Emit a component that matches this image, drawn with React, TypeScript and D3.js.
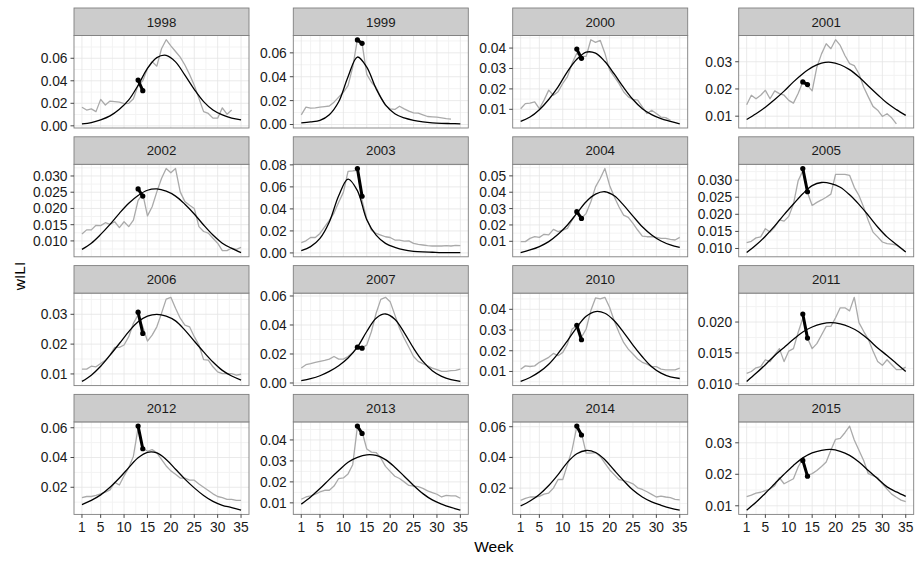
import * as d3 from "d3";

// weeks of the season shown on the x axis
const WEEKS = [1, 2, 3, 4, 5, 6, 7, 8, 9, 10, 11, 12, 13, 14, 15, 16, 17, 18, 19, 20, 21, 22, 23, 24, 25, 26, 27, 28, 29, 30, 31, 32, 33, 34, 35];
// weeks at which the fitted curve was read
const FIT_WEEKS = [1, 3, 5, 7, 9, 11, 13, 15, 17, 19, 21, 23, 25, 27, 29, 31, 33, 35];
const SPIKE_WEEKS = [13, 14];
const X_TICKS = [1, 5, 10, 15, 20, 25, 30, 35];

const wili1998 = [0.0165, 0.014, 0.015, 0.0126, 0.0235, 0.0185, 0.022, 0.0215, 0.021, 0.0197, 0.02, 0.024, 0.036, 0.04, 0.051, 0.057, 0.053, 0.0685, 0.0765, 0.071, 0.066, 0.061, 0.054, 0.0456, 0.036, 0.0244, 0.0126, 0.011, 0.0068, 0.0068, 0.016, 0.0103, 0.014];
const fit1998 = [0.0018, 0.0029, 0.0053, 0.0088, 0.0147, 0.023, 0.036, 0.051, 0.0606, 0.0626, 0.0568, 0.045, 0.0324, 0.0215, 0.0141, 0.0097, 0.0068, 0.0053];
const spike1998 = [0.0406, 0.0312];
const ticks1998 = [0, 0.02, 0.04, 0.06];

const wili1999 = [0.0081, 0.0145, 0.0137, 0.014, 0.0145, 0.015, 0.0155, 0.0187, 0.0229, 0.027, 0.0326, 0.048, 0.071, 0.068, 0.042, 0.0354, 0.031, 0.0229, 0.0159, 0.0131, 0.0126, 0.0153, 0.0131, 0.0112, 0.0098, 0.0095, 0.0081, 0.0067, 0.0064, 0.0061, 0.0056, 0.005, 0.0045];
const fit1999 = [0.0014, 0.0022, 0.0035, 0.0082, 0.019, 0.04, 0.0565, 0.048, 0.03, 0.0165, 0.009, 0.0055, 0.0035, 0.0022, 0.0014, 0.001, 0.0008, 0.0006];
const spike1999 = [0.0708, 0.068];
const ticks1999 = [0, 0.02, 0.04, 0.06];

const wili2000 = [0.0103, 0.0128, 0.013, 0.0136, 0.0103, 0.0145, 0.0194, 0.0169, 0.0186, 0.0227, 0.026, 0.0326, 0.0375, 0.0359, 0.0359, 0.0441, 0.0428, 0.0438, 0.0375, 0.0293, 0.026, 0.0227, 0.0186, 0.0161, 0.0149, 0.0145, 0.0112, 0.0079, 0.0095, 0.0079, 0.0062, 0.0059, 0.0046];
const fit2000 = [0.0041, 0.0062, 0.0098, 0.0148, 0.021, 0.0285, 0.0345, 0.038, 0.0375, 0.0334, 0.0273, 0.0207, 0.0148, 0.0103, 0.0074, 0.0054, 0.0041, 0.0029];
const spike2000 = [0.0395, 0.035];
const ticks2000 = [0.01, 0.02, 0.03, 0.04];

const wili2001 = [0.0142, 0.0177, 0.0164, 0.0177, 0.0195, 0.0164, 0.0193, 0.0183, 0.0177, 0.0158, 0.0148, 0.0183, 0.0226, 0.0213, 0.0193, 0.028, 0.0329, 0.0366, 0.0348, 0.0381, 0.036, 0.0323, 0.0293, 0.0286, 0.0256, 0.0207, 0.0171, 0.0136, 0.0122, 0.0099, 0.0109, 0.0094, 0.0072];
const fit2001 = [0.0088, 0.0109, 0.0133, 0.0161, 0.0192, 0.0226, 0.0256, 0.028, 0.0295, 0.0298, 0.0289, 0.0271, 0.0244, 0.0211, 0.0179, 0.0148, 0.0124, 0.0103];
const spike2001 = [0.0226, 0.0216];
const ticks2001 = [0.01, 0.02, 0.03];

const wili2002 = [0.0121, 0.0134, 0.0134, 0.0148, 0.0147, 0.0156, 0.0151, 0.0159, 0.0141, 0.0159, 0.0144, 0.0164, 0.0225, 0.0245, 0.0177, 0.0205, 0.0251, 0.0292, 0.0323, 0.031, 0.0323, 0.0251, 0.0221, 0.021, 0.02, 0.0144, 0.0129, 0.0124, 0.0108, 0.0093, 0.007, 0.007, 0.0078, 0.0074, 0.008];
const fit2002 = [0.0074, 0.0093, 0.012, 0.0151, 0.0185, 0.0216, 0.024, 0.0256, 0.026, 0.0253, 0.0238, 0.0213, 0.0183, 0.0149, 0.0118, 0.0093, 0.0077, 0.0064];
const spike2002 = [0.026, 0.0238];
const ticks2002 = [0.01, 0.015, 0.02, 0.025, 0.03];

const wili2003 = [0.0093, 0.011, 0.014, 0.014, 0.0177, 0.0237, 0.0296, 0.0362, 0.046, 0.055, 0.074, 0.0745, 0.0751, 0.0476, 0.0311, 0.0207, 0.0177, 0.0162, 0.0147, 0.014, 0.0117, 0.0117, 0.0108, 0.011, 0.0087, 0.0078, 0.0072, 0.0066, 0.0063, 0.0063, 0.0063, 0.0066, 0.0063, 0.0069, 0.0066];
const fit2003 = [0.0021, 0.0057, 0.0132, 0.0281, 0.052, 0.0671, 0.0566, 0.0302, 0.0162, 0.0087, 0.0051, 0.0027, 0.0015, 0.0009, 0.0006, 0.0003, 0.0003, 0.0003];
const spike2003 = [0.0767, 0.0515];
const ticks2003 = [0, 0.02, 0.04, 0.06, 0.08];

const wili2004 = [0.0098, 0.0098, 0.0118, 0.0128, 0.0124, 0.0143, 0.0139, 0.0173, 0.0159, 0.0169, 0.0179, 0.023, 0.0275, 0.024, 0.0271, 0.0342, 0.0433, 0.0484, 0.0545, 0.0443, 0.0372, 0.0311, 0.026, 0.0246, 0.021, 0.0169, 0.0132, 0.0128, 0.0128, 0.0124, 0.0118, 0.0118, 0.0112, 0.0108, 0.0124];
const fit2004 = [0.0031, 0.0047, 0.0068, 0.0098, 0.0143, 0.02, 0.0271, 0.0342, 0.0388, 0.0403, 0.0378, 0.0321, 0.0254, 0.0189, 0.0139, 0.0102, 0.0078, 0.0063];
const spike2004 = [0.0281, 0.024];
const ticks2004 = [0.01, 0.02, 0.03, 0.04, 0.05];

const wili2005 = [0.0117, 0.0121, 0.0131, 0.0134, 0.0158, 0.0148, 0.0163, 0.0184, 0.018, 0.0194, 0.023, 0.0298, 0.0327, 0.0264, 0.0226, 0.0235, 0.0242, 0.025, 0.0259, 0.0317, 0.0317, 0.0317, 0.0314, 0.0279, 0.0255, 0.0221, 0.0182, 0.0148, 0.0134, 0.0119, 0.0114, 0.0113, 0.011, 0.01, 0.009];
const fit2005 = [0.0088, 0.011, 0.0136, 0.0166, 0.0199, 0.023, 0.026, 0.0284, 0.0293, 0.029, 0.0279, 0.0257, 0.0229, 0.0197, 0.0163, 0.0134, 0.0112, 0.009];
const spike2005 = [0.0334, 0.0266];
const ticks2005 = [0.01, 0.015, 0.02, 0.025, 0.03];

const wili2006 = [0.0116, 0.0116, 0.0126, 0.0124, 0.0135, 0.0146, 0.0163, 0.0189, 0.0189, 0.0197, 0.0225, 0.027, 0.0298, 0.0258, 0.021, 0.023, 0.0258, 0.0303, 0.0351, 0.0357, 0.032, 0.0287, 0.0264, 0.0258, 0.0225, 0.0197, 0.0148, 0.0146, 0.0124, 0.0107, 0.0101, 0.0101, 0.0101, 0.0096, 0.0099];
const fit2006 = [0.0075, 0.0096, 0.0126, 0.0163, 0.0202, 0.0242, 0.0275, 0.0294, 0.03, 0.0294, 0.0278, 0.0247, 0.021, 0.0174, 0.014, 0.0112, 0.0093, 0.0079];
const spike2006 = [0.0307, 0.0236];
const ticks2006 = [0.01, 0.02, 0.03];

const wili2007 = [0.0103, 0.0126, 0.0133, 0.0142, 0.0149, 0.0156, 0.0165, 0.0183, 0.0165, 0.0165, 0.0183, 0.0211, 0.0247, 0.0241, 0.0263, 0.0355, 0.0481, 0.0577, 0.0591, 0.0561, 0.047, 0.0378, 0.0309, 0.0247, 0.0183, 0.0149, 0.0133, 0.0119, 0.0103, 0.0092, 0.008, 0.008, 0.0085, 0.0087, 0.0096];
const fit2007 = [0.0016, 0.003, 0.005, 0.008, 0.0119, 0.0172, 0.0247, 0.0355, 0.0447, 0.0476, 0.044, 0.0348, 0.024, 0.0149, 0.0085, 0.0046, 0.0023, 0.0011];
const spike2007 = [0.0247, 0.024];
const ticks2007 = [0, 0.02, 0.04, 0.06];

const wili2010 = [0.0111, 0.0127, 0.0124, 0.0127, 0.0144, 0.0156, 0.0168, 0.0187, 0.0176, 0.0192, 0.0232, 0.0305, 0.0321, 0.0265, 0.0305, 0.0394, 0.0455, 0.045, 0.0458, 0.041, 0.0345, 0.0289, 0.024, 0.0208, 0.0184, 0.016, 0.0144, 0.0135, 0.0123, 0.0123, 0.0111, 0.0108, 0.0108, 0.0108, 0.0116];
const fit2010 = [0.0052, 0.0071, 0.0098, 0.0135, 0.0187, 0.0248, 0.0313, 0.0366, 0.0389, 0.0381, 0.0345, 0.0289, 0.0227, 0.0171, 0.0123, 0.0092, 0.0074, 0.0066];
const spike2010 = [0.0323, 0.0253];
const ticks2010 = [0.01, 0.02, 0.03, 0.04];

const wili2011 = [0.0117, 0.012, 0.0126, 0.0128, 0.0139, 0.0136, 0.0147, 0.0157, 0.0136, 0.0153, 0.0157, 0.0183, 0.0206, 0.0174, 0.0157, 0.0165, 0.0179, 0.0193, 0.0193, 0.0207, 0.0223, 0.0223, 0.0218, 0.024, 0.0199, 0.0185, 0.0172, 0.0153, 0.0136, 0.013, 0.0139, 0.0131, 0.0123, 0.0123, 0.0127];
const fit2011 = [0.0104, 0.0117, 0.0131, 0.0146, 0.0159, 0.0172, 0.0184, 0.0192, 0.0197, 0.0199, 0.0197, 0.0192, 0.0184, 0.0172, 0.0158, 0.0146, 0.0133, 0.012];
const spike2011 = [0.0213, 0.0174];
const ticks2011 = [0.01, 0.015, 0.02];

const wili2012 = [0.013, 0.0138, 0.0138, 0.0145, 0.0156, 0.0167, 0.0182, 0.0233, 0.0215, 0.0277, 0.0332, 0.0409, 0.06, 0.0464, 0.0442, 0.0453, 0.0431, 0.0387, 0.0343, 0.031, 0.0288, 0.0262, 0.0262, 0.0248, 0.0248, 0.0222, 0.02, 0.0178, 0.0156, 0.0138, 0.013, 0.0119, 0.0119, 0.0112, 0.0112];
const fit2012 = [0.0084, 0.0112, 0.0149, 0.02, 0.0262, 0.0332, 0.0398, 0.0435, 0.0431, 0.0387, 0.0321, 0.0255, 0.0196, 0.0145, 0.0105, 0.0079, 0.0064, 0.0046];
const spike2012 = [0.0611, 0.0459];
const ticks2012 = [0.02, 0.04, 0.06];

const wili2013 = [0.0117, 0.0128, 0.0133, 0.0141, 0.0152, 0.016, 0.016, 0.018, 0.0216, 0.0219, 0.0238, 0.0282, 0.0463, 0.0439, 0.0357, 0.0342, 0.034, 0.0314, 0.0274, 0.025, 0.0227, 0.0216, 0.02, 0.0183, 0.018, 0.0177, 0.0169, 0.0157, 0.0149, 0.0141, 0.0128, 0.0136, 0.0133, 0.0133, 0.0122];
const fit2013 = [0.0094, 0.0128, 0.0168, 0.0212, 0.0254, 0.0294, 0.0317, 0.0329, 0.0326, 0.0306, 0.027, 0.0227, 0.0183, 0.0144, 0.0114, 0.0094, 0.0078, 0.0065];
const spike2013 = [0.0466, 0.0431];
const ticks2013 = [0.01, 0.02, 0.03, 0.04];

const wili2014 = [0.012, 0.0133, 0.0142, 0.0142, 0.0146, 0.0161, 0.0168, 0.02, 0.0256, 0.0256, 0.0353, 0.045, 0.06, 0.0557, 0.0428, 0.0428, 0.0432, 0.0406, 0.0363, 0.032, 0.0288, 0.0256, 0.0249, 0.0241, 0.0228, 0.0202, 0.0191, 0.0176, 0.0159, 0.0142, 0.0148, 0.0142, 0.0138, 0.0127, 0.0123];
const fit2014 = [0.0084, 0.0116, 0.0159, 0.0217, 0.0288, 0.0368, 0.0424, 0.0445, 0.0432, 0.0385, 0.0316, 0.0249, 0.0187, 0.0142, 0.011, 0.0088, 0.0069, 0.0056];
const spike2014 = [0.0604, 0.0546];
const ticks2014 = [0.02, 0.04, 0.06];

const wili2015 = [0.0129, 0.0134, 0.014, 0.0143, 0.0148, 0.0153, 0.0164, 0.0189, 0.017, 0.0178, 0.0186, 0.0223, 0.025, 0.0196, 0.0202, 0.0212, 0.0225, 0.0239, 0.0276, 0.0311, 0.0314, 0.0332, 0.0353, 0.0309, 0.0276, 0.0244, 0.0202, 0.0196, 0.0189, 0.017, 0.0153, 0.0137, 0.0127, 0.0118, 0.0113];
const fit2015 = [0.0086, 0.0111, 0.014, 0.017, 0.02, 0.0228, 0.0252, 0.0268, 0.0276, 0.0279, 0.0273, 0.026, 0.0239, 0.0212, 0.0186, 0.016, 0.0144, 0.013];
const spike2015 = [0.0244, 0.0194];
const ticks2015 = [0.01, 0.02, 0.03];

const PANELS = [
  { year: "1998", obs: wili1998, fit: fit1998, spike: spike1998, ticks: ticks1998 },
  { year: "1999", obs: wili1999, fit: fit1999, spike: spike1999, ticks: ticks1999 },
  { year: "2000", obs: wili2000, fit: fit2000, spike: spike2000, ticks: ticks2000 },
  { year: "2001", obs: wili2001, fit: fit2001, spike: spike2001, ticks: ticks2001 },
  { year: "2002", obs: wili2002, fit: fit2002, spike: spike2002, ticks: ticks2002 },
  { year: "2003", obs: wili2003, fit: fit2003, spike: spike2003, ticks: ticks2003 },
  { year: "2004", obs: wili2004, fit: fit2004, spike: spike2004, ticks: ticks2004 },
  { year: "2005", obs: wili2005, fit: fit2005, spike: spike2005, ticks: ticks2005 },
  { year: "2006", obs: wili2006, fit: fit2006, spike: spike2006, ticks: ticks2006 },
  { year: "2007", obs: wili2007, fit: fit2007, spike: spike2007, ticks: ticks2007 },
  { year: "2010", obs: wili2010, fit: fit2010, spike: spike2010, ticks: ticks2010 },
  { year: "2011", obs: wili2011, fit: fit2011, spike: spike2011, ticks: ticks2011 },
  { year: "2012", obs: wili2012, fit: fit2012, spike: spike2012, ticks: ticks2012 },
  { year: "2013", obs: wili2013, fit: fit2013, spike: spike2013, ticks: ticks2013 },
  { year: "2014", obs: wili2014, fit: fit2014, spike: spike2014, ticks: ticks2014 },
  { year: "2015", obs: wili2015, fit: fit2015, spike: spike2015, ticks: ticks2015 }
];

type Panel = (typeof PANELS)[number];

const WIDTH = 922;
const HEIGHT = 563;
const COL_LEFT = [74, 293.3, 512.7, 738.7];
const PANEL_W = 175;
const FIRST_TOP = 8;
const ROW_PITCH = 128.8;
const STRIP_H = 27.5;
const PANEL_H = 92.5;
const FONT = "'Liberation Sans', Arial, Helvetica, sans-serif";

function decimalsFor(ticks: number[]): number {
  for (let d = 0; d < 6; d += 1) {
    if (ticks.every((t) => Math.abs(t * 10 ** d - Math.round(t * 10 ** d)) < 1e-9)) return d;
  }
  return 6;
}

function minorBetween(ticks: number[], lo: number, hi: number): number[] {
  const out: number[] = [];
  for (let i = 0; i < ticks.length - 1; i += 1) out.push((ticks[i] + ticks[i + 1]) / 2);
  if (ticks.length > 1) {
    const first = ticks[0] - (ticks[1] - ticks[0]) / 2;
    const n = ticks.length;
    const last = ticks[n - 1] + (ticks[n - 1] - ticks[n - 2]) / 2;
    if (first >= lo) out.push(first);
    if (last <= hi) out.push(last);
  }
  return out;
}

function Facet({ panel, index }: { panel: Panel; index: number }) {
  const col = index % 4;
  const row = Math.floor(index / 4);
  const left = COL_LEFT[col];
  const stripTop = FIRST_TOP + row * ROW_PITCH;
  const top = stripTop + STRIP_H;
  const bottom = top + PANEL_H;
  const isBottomRow = row === 3;

  const [wMin, wMax] = d3.extent(WEEKS) as [number, number];
  const wPad = (wMax - wMin) * 0.05;
  const x = d3.scaleLinear().domain([wMin - wPad, wMax + wPad]).range([left, left + PANEL_W]);

  const all = [...panel.obs, ...panel.fit, ...panel.spike];
  const [vMin, vMax] = d3.extent(all) as [number, number];
  const vPad = (vMax - vMin) * 0.05;
  const y = d3.scaleLinear().domain([vMin - vPad, vMax + vPad]).range([bottom, top]);
  const [lo, hi] = y.domain();

  const xMinor = minorBetween(X_TICKS, x.domain()[0], x.domain()[1]);
  const yMinor = minorBetween(panel.ticks, lo, hi);
  const fmt = d3.format(`.${decimalsFor(panel.ticks)}f`);

  const obsLine = d3
    .line<number>()
    .x((_, i) => x(WEEKS[i]))
    .y((d) => y(d));
  const fitLine = d3
    .line<number>()
    .x((_, i) => x(FIT_WEEKS[i]))
    .y((d) => y(d))
    .curve(d3.curveCatmullRom.alpha(0.5));
  const spikeLine = d3
    .line<number>()
    .x((_, i) => x(SPIKE_WEEKS[i]))
    .y((d) => y(d));

  return (
    <g>
      <rect x={left} y={top} width={PANEL_W} height={PANEL_H} fill="#ffffff" />
      {xMinor.map((w) => (
        <line key={`xm${w}`} x1={x(w)} x2={x(w)} y1={top} y2={bottom} stroke="#f3f3f3" strokeWidth={1} />
      ))}
      {yMinor.map((v) => (
        <line key={`ym${v}`} x1={left} x2={left + PANEL_W} y1={y(v)} y2={y(v)} stroke="#f3f3f3" strokeWidth={1} />
      ))}
      {X_TICKS.map((w) => (
        <line key={`xg${w}`} x1={x(w)} x2={x(w)} y1={top} y2={bottom} stroke="#e5e5e5" strokeWidth={0.8} />
      ))}
      {panel.ticks.map((v) => (
        <line key={`yg${v}`} x1={left} x2={left + PANEL_W} y1={y(v)} y2={y(v)} stroke="#e5e5e5" strokeWidth={0.8} />
      ))}

      <path d={obsLine(panel.obs) ?? ""} fill="none" stroke="#aaaaaa" strokeWidth={1.3} strokeLinejoin="round" />
      <path d={fitLine(panel.fit) ?? ""} fill="none" stroke="#000000" strokeWidth={1.3} />
      <path d={spikeLine(panel.spike) ?? ""} fill="none" stroke="#000000" strokeWidth={3} strokeLinecap="round" />
      {panel.spike.map((v, i) => (
        <circle key={`p${i}`} cx={x(SPIKE_WEEKS[i])} cy={y(v)} r={2.6} fill="#000000" />
      ))}

      <rect x={left} y={top} width={PANEL_W} height={PANEL_H} fill="none" stroke="#7f7f7f" strokeWidth={0.9} />

      <rect x={left} y={stripTop} width={PANEL_W} height={STRIP_H} fill="#cccccc" stroke="#7f7f7f" strokeWidth={0.9} />
      <text x={left + PANEL_W / 2} y={stripTop + STRIP_H / 2} dy="0.36em" textAnchor="middle" fontSize={13.3} fill="#1a1a1a">
        {panel.year}
      </text>

      {panel.ticks.map((v) => (
        <g key={`yt${v}`}>
          <line x1={left - 3.5} x2={left} y1={y(v)} y2={y(v)} stroke="#333333" strokeWidth={0.9} />
          <text x={left - 6.5} y={y(v)} dy="0.36em" textAnchor="end" fontSize={13.8} fill="#1a1a1a">
            {fmt(v)}
          </text>
        </g>
      ))}

      {isBottomRow &&
        X_TICKS.map((w) => (
          <g key={`xt${w}`}>
            <line x1={x(w)} x2={x(w)} y1={bottom} y2={bottom + 3.5} stroke="#333333" strokeWidth={0.9} />
            <text x={x(w)} y={bottom + 18} textAnchor="middle" fontSize={13.8} fill="#1a1a1a">
              {w}
            </text>
          </g>
        ))}
    </g>
  );
}

export default function App() {
  const plotLeft = COL_LEFT[0];
  const plotRight = COL_LEFT[3] + PANEL_W;
  return (
    <div style={{ position: "absolute", left: 0, top: 0 }}>
      <svg width={WIDTH} height={HEIGHT} viewBox={`0 0 ${WIDTH} ${HEIGHT}`} style={{ display: "block", fontFamily: FONT }}>
        <rect width={WIDTH} height={HEIGHT} fill="#ffffff" />
        {PANELS.map((panel, i) => (
          <Facet key={panel.year} panel={panel} index={i} />
        ))}
        <text x={(plotLeft + plotRight) / 2} y={551.5} textAnchor="middle" fontSize={15.5} fill="#000000">
          Week
        </text>
        <text transform="translate(25,276) rotate(-90)" textAnchor="middle" fontSize={15.5} fill="#000000">
          wILI
        </text>
      </svg>
    </div>
  );
}
